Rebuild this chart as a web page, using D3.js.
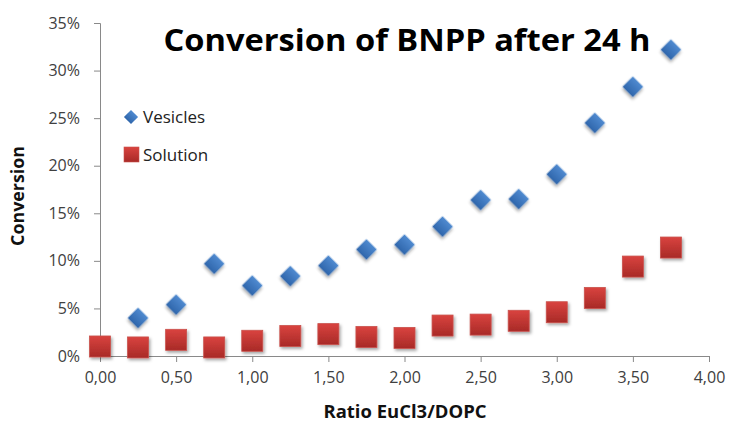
<!DOCTYPE html>
<html>
<head>
<meta charset="utf-8">
<script src="https://cdn.jsdelivr.net/npm/d3@7"></script>
<style>
  body { margin: 0; background: #fff; }
  text { font-family: "Open Sans", "Liberation Sans", sans-serif; }
</style>
</head>
<body>
<div id="chart"></div>
<script>
// data (conversion in %)
const ratios = [0, 0.25, 0.5, 0.75, 1, 1.25, 1.5, 1.75, 2, 2.25, 2.5, 2.75, 3, 3.25, 3.5, 3.75];
const vesicles = [null, 4.0, 5.4, 9.7, 7.4, 8.4, 9.5, 11.2, 11.7, 13.6, 16.4, 16.5, 19.1, 24.5, 28.3, 32.2];
const solution = [1.0, 0.9, 1.7, 0.9, 1.6, 2.1, 2.3, 2.0, 1.9, 3.2, 3.3, 3.7, 4.6, 6.1, 9.4, 11.4];
const xTicks = [0, 0.5, 1, 1.5, 2, 2.5, 3, 3.5, 4];
const yTicks = [0, 5, 10, 15, 20, 25, 30, 35];

const W = 731, H = 425;
const margin = { top: 23, right: 22, bottom: 69, left: 100 };
const width = W - margin.left - margin.right,
  height = H - margin.top - margin.bottom;

const svgRoot = d3.select("#chart").append("svg")
  .attr("width", W).attr("height", H);

const defs = svgRoot.append("defs");
const gBlue = defs.append("linearGradient").attr("id", "gBlue")
  .attr("x1", 0).attr("y1", 0).attr("x2", 0).attr("y2", 1);
gBlue.append("stop").attr("offset", "0%").attr("stop-color", "#4f8ad0");
gBlue.append("stop").attr("offset", "100%").attr("stop-color", "#2f66ab");
const gRed = defs.append("linearGradient").attr("id", "gRed")
  .attr("x1", 0).attr("y1", 0).attr("x2", 0).attr("y2", 1);
gRed.append("stop").attr("offset", "0%").attr("stop-color", "#d9433f");
gRed.append("stop").attr("offset", "100%").attr("stop-color", "#a82a27");
const shadow = defs.append("filter").attr("id", "shadow")
  .attr("x", "-30%").attr("y", "-30%").attr("width", "160%").attr("height", "160%");
shadow.append("feDropShadow").attr("dx", 1.5).attr("dy", 2).attr("stdDeviation", 1.5)
  .attr("flood-color", "#000").attr("flood-opacity", 0.35);

const svg = svgRoot.append("g")
  .attr("transform", `translate(${margin.left}, ${margin.top})`);

const x = d3.scaleLinear().domain([0, 4]).range([0, width]);
const y = d3.scaleLinear().domain([0, 35]).range([height, 0]);

// axes
const xAxis = svg.append("g")
  .attr("transform", `translate(0, ${height})`)
  .call(d3.axisBottom(x).tickValues(xTicks).tickSize(6).tickPadding(10)
    .tickFormat(d => d3.format(".2f")(d).replace(".", ",")));
const yAxis = svg.append("g")
  .call(d3.axisLeft(y).tickValues(yTicks).tickSize(6).tickPadding(14)
    .tickFormat(d => d + "%"));
[xAxis, yAxis].forEach(a => {
  a.selectAll("path, line").attr("stroke", "#898989");
  a.selectAll("text").attr("fill", "#404040").style("font-size", "16px");
});

// points
const ptsV = ratios.map((r, i) => ({ r, v: vesicles[i] })).filter(d => d.v != null);
const ptsS = ratios.map((r, i) => ({ r, v: solution[i] }));

svg.append("g").selectAll("rect").data(ptsS).enter().append("rect")
  .attr("x", d => x(d.r) - 10.5).attr("y", d => y(d.v) - 10.5)
  .attr("width", 21).attr("height", 21)
  .attr("fill", "url(#gRed)").attr("stroke", "#c9514c").attr("stroke-width", 0.8)
  .attr("filter", "url(#shadow)");

const diamond = d3.symbol().type(d3.symbolSquare).size(215);
svg.append("g").selectAll("path").data(ptsV).enter().append("path")
  .attr("d", diamond)
  .attr("transform", d => `translate(${x(d.r)}, ${y(d.v)}) rotate(45)`)
  .attr("fill", "url(#gBlue)")
  .attr("filter", "url(#shadow)");

// legend
const legend = svgRoot.append("g");
legend.append("path").attr("d", d3.symbol().type(d3.symbolSquare).size(100))
  .attr("transform", "translate(131, 117) rotate(45)").attr("fill", "url(#gBlue)");
legend.append("text").attr("x", 143).attr("y", 123).text("Vesicles")
  .attr("fill", "#222").style("font-size", "17px");
legend.append("rect").attr("x", 124).attr("y", 147).attr("width", 15).attr("height", 15)
  .attr("fill", "url(#gRed)").attr("stroke", "#c9514c").attr("stroke-width", 0.6);
legend.append("text").attr("x", 143).attr("y", 161).text("Solution")
  .attr("fill", "#222").style("font-size", "17px");

// titles
svgRoot.append("text").attr("x", 407).attr("y", 51).attr("text-anchor", "middle")
  .style("font-size", "30px").style("font-weight", "bold").attr("fill", "#000")
  .attr("textLength", 487).attr("lengthAdjust", "spacingAndGlyphs")
  .text("Conversion of BNPP after 24 h");
svgRoot.append("text").attr("x", 405).attr("y", 418).attr("text-anchor", "middle")
  .style("font-size", "17px").style("font-weight", "bold").attr("fill", "#111")
  .attr("textLength", 163).attr("lengthAdjust", "spacingAndGlyphs")
  .text("Ratio EuCl3/DOPC");
svgRoot.append("text").attr("transform", "translate(24, 196) rotate(-90)")
  .attr("text-anchor", "middle")
  .style("font-size", "17px").style("font-weight", "bold").attr("fill", "#111")
  .attr("textLength", 100).attr("lengthAdjust", "spacingAndGlyphs")
  .text("Conversion");
</script>
</body>
</html>
